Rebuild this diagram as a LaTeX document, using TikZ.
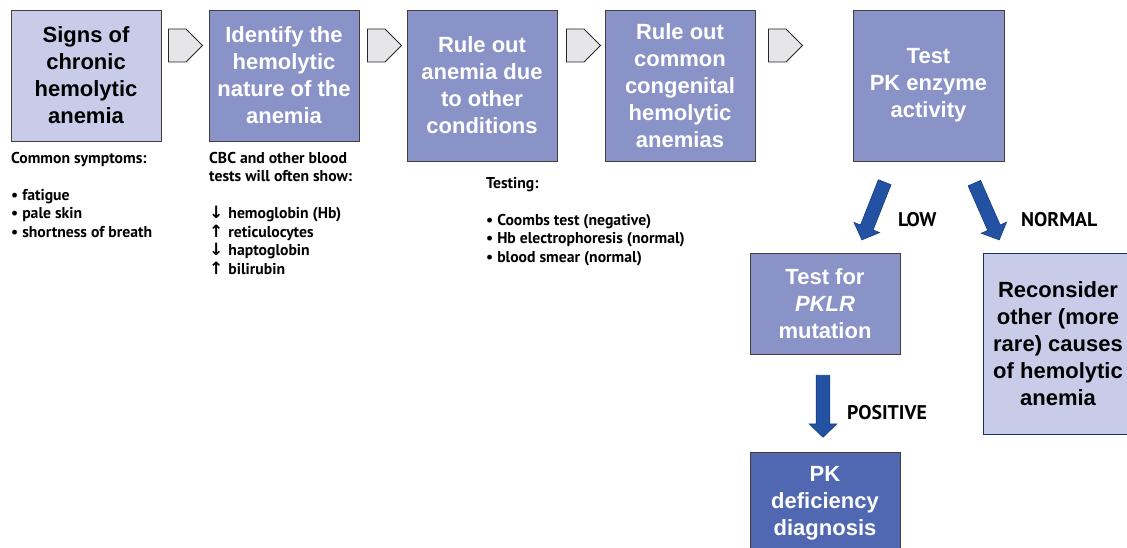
\documentclass[tikz,border=0pt]{standalone}
\usepackage{fontspec}
\setmainfont{Liberation Sans}
\newfontfamily\notefont{PT Sans}
\newfontfamily\arrowfont{DejaVu Sans}
\usetikzlibrary{shapes.symbols,shapes.arrows}
\definecolor{lightbox}{HTML}{C9CCE9}
\definecolor{midbox}{HTML}{8A93C8}
\definecolor{darkbox}{HTML}{5067B1}
\definecolor{chevfill}{HTML}{E6E6E8}
\definecolor{arrowblue}{HTML}{2352A2}
\definecolor{arrowedge}{HTML}{163C82}
\newcommand{\dn}{{\arrowfont\fontsize{17}{18.5}\selectfont ↓}\hspace{5pt}}
\newcommand{\up}{{\arrowfont\fontsize{17}{18.5}\selectfont ↑}\hspace{5pt}}
\begin{document}
\begin{tikzpicture}[x=1pt,y=-1pt,
  box/.style={draw=black!75,line width=0.8pt,minimum width=150pt,inner sep=0pt,align=center,
    font=\fontsize{22}{27}\selectfont\bfseries},
  light/.style={box,fill=lightbox,text=black},
  mid/.style={box,fill=midbox,text=white},
  dark/.style={box,fill=darkbox,text=white},
  chev/.style={signal,signal to=east,draw=black!85,fill=chevfill,line width=0.9pt,anchor=west,
    minimum width=34pt,minimum height=33pt,inner sep=0pt},
  note/.style={anchor=north west,align=left,inner sep=0pt,
    font=\notefont\fontsize{15.7}{18.5}\selectfont\bfseries},
  tag/.style={anchor=base west,inner sep=0pt,font=\notefont\fontsize{19.8}{22}\selectfont\bfseries},
  bigarrow/.style={single arrow,fill=arrowblue,draw=arrowedge,line width=0.6pt,inner sep=6.5pt,
    minimum height=62pt,single arrow head extend=7pt,single arrow tip angle=92}]
\useasboundingbox (0,0) rectangle (1127,548);
\clip (0,0) rectangle (1127,548);

% main row
\node[light,minimum height=131pt] (signs) at (86,75.5) {Signs of\\chronic\\hemolytic\\anemia};
\node[mid,minimum height=131pt] (identify) at (284,75.5) {Identify the\\hemolytic\\nature of the\\anemia};
\node[mid,minimum height=151pt] (other) at (482,85.5) {Rule out\\anemia due\\to other\\conditions};
\node[mid,minimum height=151pt] (congen) at (680,85.5) {Rule out\\common\\congenital\\hemolytic\\anemias};
\node[mid,minimum width=151pt,minimum height=151pt] (enzyme) at (928.5,85.5) {Test\\PK enzyme\\activity};

\node[chev] (c1) at (168,45.5) {};
\node[chev] (c2) at (367,45.5) {};
\node[chev] (c3) at (566,45.5) {};
\node[chev] (c4) at (768,45.5) {};

% notes
\node[note] (symptoms) at (11,152) {Common symptoms:\\[18.5pt]
  \textbullet\ fatigue\\ \textbullet\ pale skin\\ \textbullet\ shortness of breath};
\node[note] (cbc) at (209,152) {CBC and other blood\\tests will often show:\\[18.5pt]
  \dn hemoglobin (Hb)\\ \up reticulocytes\\ \dn haptoglobin\\ \up bilirubin};
\node[note] (testing) at (486,177) {Testing:\\[18.5pt]
  \textbullet\ Coombs test (negative)\\ \textbullet\ Hb electrophoresis (normal)\\
  \textbullet\ blood smear (normal)};

% branches
\node[mid,minimum height=101pt] (pklr) at (825,303.5) {Test for\\\textit{PKLR}\\mutation};
\node[dark,minimum height=102pt] (diag) at (825,503) {PK\\deficiency\\diagnosis};
\node[light,draw=arrowedge!80!black,minimum height=181pt] (rare) at (1058,343.5)
  {Reconsider\\other (more\\rare) causes\\of hemolytic\\anemia};

\node[bigarrow,rotate=248.4] (lowarr) at (874.5,208) {};
\node[bigarrow,rotate=293.7] (normarr) at (985.5,208.5) {};
\node[bigarrow,rotate=270] (posarr) at (823,403) {};

\node[tag] (low) at (898,227) {LOW};
\node[tag] (normal) at (1021,227) {NORMAL};
\node[tag] (positive) at (847,419) {POSITIVE};
\end{tikzpicture}
\end{document}
